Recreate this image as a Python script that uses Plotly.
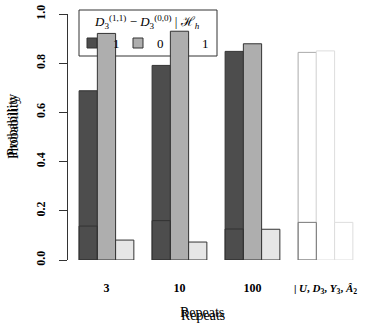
import plotly.graph_objects as go

# ---- data ----
groups = ["3", "10", "100",
          "| <i>U</i>, <i>D</i><sub>3</sub>, <i>Y</i><sub>3</sub>, <i>Â</i><sub>2</sub>"]
neg1 = [0.688, 0.791, 0.848, 0.844]
zero = [0.921, 0.930, 0.879, 0.850]
pos1 = [0.081, 0.073, 0.125, 0.153]
neg1_inner = [0.138, 0.160, 0.126, 0.153]
y_ticks = [0.0, 0.2, 0.4, 0.6, 0.8, 1.0]
legend_labels = ["1", "0", "1"]

FONT = "Liberation Serif"
fill_neg = ["#4D4D4D"] * 3 + ["#FFFFFF"]
fill_zero = ["#AEAEAE"] * 3 + ["#FFFFFF"]
fill_pos = ["#E6E6E6"] * 3 + ["#FFFFFF"]
line_neg = ["#333333"] * 3 + ["#AAAAAA"]
line_zero = ["#333333"] * 3 + ["#DDDDDD"]
line_pos = ["#333333"] * 3 + ["#DDDDDD"]
line_inner = ["#333333"] * 3 + ["#777777"]

xs = list(range(len(groups)))

fig = go.Figure()
fig.add_trace(go.Bar(x=xs, y=neg1, offsetgroup="a",
                     marker=dict(color=fill_neg, line=dict(color=line_neg, width=1))))
fig.add_trace(go.Bar(x=xs, y=zero, offsetgroup="b",
                     marker=dict(color=fill_zero, line=dict(color=line_zero, width=1))))
fig.add_trace(go.Bar(x=xs, y=pos1, offsetgroup="c",
                     marker=dict(color=fill_pos, line=dict(color=line_pos, width=1))))
fig.add_trace(go.Bar(x=xs, y=neg1_inner, offsetgroup="a",
                     marker=dict(color="rgba(0,0,0,0)", line=dict(color=line_inner, width=1))))

# plot area on screen: x 68..362, y 14..260 (body margin removed by post_script)
W, H = 368, 327
L, T = 68, 14
pw, ph = 294, 246
R = W - L - pw
B = H - T - ph


def px2paper_x(px):
    return (px - L) / pw


def px2paper_y(py):
    return (T + ph - py) / ph


shapes = []
# legend box
shapes.append(dict(type="rect", xref="paper", yref="paper", layer="below",
                   x0=px2paper_x(79), x1=px2paper_x(217),
                   y0=px2paper_y(56), y1=px2paper_y(10),
                   line=dict(color="#333333", width=1), fillcolor="white"))
for (x0, col) in [(87, "#4D4D4D"), (133, "#AEAEAE"), (178, "#E6E6E6")]:
    shapes.append(dict(type="rect", xref="paper", yref="paper", layer="below",
                       x0=px2paper_x(x0), x1=px2paper_x(x0 + 10),
                       y0=px2paper_y(48), y1=px2paper_y(38),
                       line=dict(color="#333333", width=1), fillcolor=col))


def ann(xp, yp, text, size, angle=0):
    return dict(xref="paper", yref="paper", x=px2paper_x(xp), y=px2paper_y(yp),
                xanchor="center", yanchor="middle", text=text, textangle=angle,
                showarrow=False, font=dict(family=FONT, size=size, color="black"))


annotations = []
annotations.append(ann(147, 22,
                       "<i>D</i><sub>3</sub><sup>(1,1)</sup> − <i>D</i><sub>3</sub><sup>(0,0)</sup> | ℋ<sub><i>h</i></sub>",
                       13))
for xp, t in zip([116, 160, 205], legend_labels):
    annotations.append(ann(xp, 43, t, 13))
# doubled axis titles
for yc, xc in [(125, 13), (128, 14)]:
    annotations.append(ann(xc, yc, "Probability", 14, -90))
for yc, xc in [(312, 202), (315, 203)]:
    annotations.append(ann(xc, yc, "Repeats", 14))

ticktext = ["<b>%s</b>" % g for g in groups[:3]] + \
           ['<span style="font-size:11px"><b>%s</b></span>' % groups[3]]

fig.update_layout(
    width=W, height=H,
    margin=dict(l=L, r=R, t=T, b=B, pad=0),
    paper_bgcolor="white", plot_bgcolor="white",
    barmode="group", bargap=0.25, bargroupgap=0,
    showlegend=False, hovermode=False,
    shapes=shapes, annotations=annotations,
    font=dict(family=FONT, color="black"),
)
fig.update_xaxes(range=[-0.527, 3.5], tickmode="array", tickvals=xs,
                 ticktext=ticktext,
                 showline=False, showgrid=False, zeroline=False, ticks="",
                 ticklabelstandoff=19, tickfont=dict(family=FONT, size=12, color="black"))
fig.update_yaxes(range=[0, 1], tickmode="array", tickvals=y_ticks,
                 ticktext=["<b>%.1f</b>" % v for v in y_ticks],
                 showline=True, linecolor="#333333", linewidth=1, mirror=False,
                 ticks="outside", ticklen=8, tickcolor="#333333",
                 showgrid=False, zeroline=False, tickangle=-90,
                 ticklabeloverflow="allow",
                 ticklabelstandoff=9, tickfont=dict(family=FONT, size=12, color="black"))

fig.write_html("out.html", config={"displayModeBar": False},
               post_script="document.body.style.margin='0';")
